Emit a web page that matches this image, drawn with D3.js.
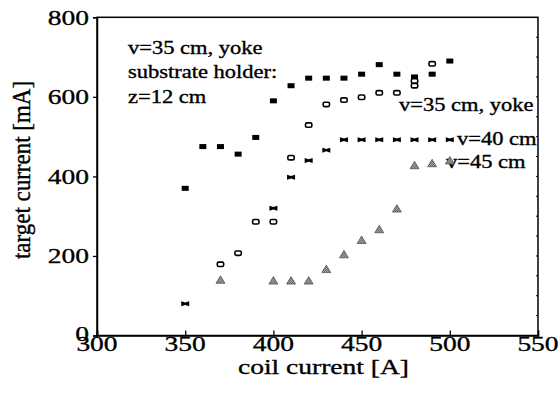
<!DOCTYPE html>
<html><head><meta charset="utf-8">
<script src="https://cdn.jsdelivr.net/npm/d3@7"></script>
<style>body{margin:0;background:#fff}svg{display:block}text{font-family:"Liberation Serif","Times New Roman",serif;fill:#000;stroke:#000;stroke-width:0.35px}</style>
</head><body><svg id="c" width="560" height="405"></svg>
<script>
// ---- data ----
const xTicks = [300, 350, 400, 450, 500, 550];
const yTicks = [0, 200, 400, 600, 800];
const xLabel = "coil current [A]";
const yLabel = "target current [mA]";

// v=35 cm, yoke, substrate holder z=12 cm (filled squares)
const holderCoil = [350,360,370,380,390,400,410,420,430,440,450,460,470,480,490,500];
const holderCur  = [370,475,475,456,498,590,628,647,647,647,657,681,657,650,657,690];
// v=35 cm, yoke (open rectangles)
const yokeCoil = [370,380,390,400,410,420,430,440,450,460,470,480,480,490];
const yokeCur  = [179,207,286,286,447,529,581,592,599,610,610,628,640,683];
// v=40 cm (bow ties)
const v40Coil = [350,400,410,420,430,440,450,460,470,480,490,500];
const v40Cur  = [80,320,398,440,466,492,492,492,492,492,492,492];
// v=45 cm (hatched triangles)
const v45Coil = [370,400,410,420,430,440,450,460,470,480,490,500];
const v45Cur  = [140,138,138,138,167,204,240,267,319,428,433,440];

const noteLines = ["v=35 cm, yoke", "substrate holder:", "z=12 cm"];
const seriesLabels = ["v=35 cm, yoke", "v=40 cm", "v=45 cm"];

// ---- drawing ----
const svg = d3.select("#c");
const L = 97, R = 538, T = 17.3, B = 335.5;
const SX = 1.25; // horizontal stretch of the scanned glyphs
const x = d3.scaleLinear().domain([300, 550]).range([L, R]);
const y = d3.scaleLinear().domain([0, 800]).range([B, T]);

const defs = svg.append("defs");
const pat = defs.append("pattern").attr("id","dots").attr("width",2).attr("height",2)
  .attr("patternUnits","userSpaceOnUse");
pat.append("rect").attr("width",2).attr("height",2).attr("fill","#fff");
pat.append("rect").attr("x",0).attr("y",0).attr("width",1).attr("height",1).attr("fill","#111");
pat.append("rect").attr("x",1).attr("y",1).attr("width",1).attr("height",1).attr("fill","#111");
defs.append("clipPath").attr("id","clip").append("rect")
  .attr("x",L).attr("y",T).attr("width",R-L).attr("height",B-T);

function stext(g, str, px, py, size, anchor) {
  return g.append("text").attr("font-size", size).attr("text-anchor", anchor || "start")
    .attr("transform", `translate(${px},${py}) scale(${SX},1)`).text(str);
}

// frame
svg.append("rect").attr("x",L).attr("y",T).attr("width",R-L).attr("height",B-T)
  .attr("fill","none").attr("stroke","#000").attr("stroke-width",1.5);

// axes (ticks only, labels drawn separately)
const ax = svg.append("g").attr("transform",`translate(0,${B})`)
  .call(d3.axisBottom(x).tickValues(xTicks).tickSize(-5).tickFormat(""));
const ay = svg.append("g").attr("transform",`translate(${L},0)`)
  .call(d3.axisLeft(y).tickValues(yTicks).tickSize(4).tickFormat(""));
[ax, ay].forEach(a => {
  a.select(".domain").attr("stroke-width",1.5);
  a.selectAll(".tick line").attr("stroke-width",1.3);
});
// small ticks along right border
svg.append("g").selectAll("line").data(d3.range(50, 800, 50)).join("line")
  .attr("x1",R-2).attr("x2",R).attr("y1",d=>y(d)).attr("y2",d=>y(d))
  .attr("stroke","#000").attr("stroke-width",1);

const lab = svg.append("g");
xTicks.forEach(v => stext(lab, String(v), x(v), 351, 22, "middle"));
yTicks.forEach(v => stext(lab, String(v), 89, y(v) + (v === 0 ? 5 : 7.5), 22, "end"));
stext(lab, xLabel, (L + R) / 2 + 6, 374, 22, "middle");
lab.append("text").attr("font-size",23).attr("text-anchor","middle")
  .attr("transform","translate(30,170) rotate(-90) scale(1,1.1)").text(yLabel);

// notes
noteLines.forEach((s, i) => stext(lab, s, 128, [54, 78, 103][i], 18));
const cl = svg.append("g").attr("clip-path","url(#clip)");
stext(cl, seriesLabels[0], 399, 111, 18);
stext(cl, seriesLabels[1], 457, 145, 18);
stext(cl, seriesLabels[2], 446, 168, 18);

// markers
const pts = (cx, cy) => cx.map((c, i) => ({c, v: cy[i]}));
const m = svg.append("g");
m.selectAll(".fs").data(pts(holderCoil, holderCur)).join("rect")
  .attr("x", d => x(d.c) - 3.5).attr("y", d => y(d.v) - 2.5)
  .attr("width", 7).attr("height", 5).attr("fill", "#000");
m.selectAll(".os").data(pts(yokeCoil, yokeCur)).join("rect")
  .attr("x", d => x(d.c) - 3.2).attr("y", d => y(d.v) - 2.2)
  .attr("width", 6.4).attr("height", 4.4).attr("rx", 1.5)
  .attr("fill", "#fff").attr("stroke", "#000").attr("stroke-width", 1.6);
m.selectAll(".bt").data(pts(v40Coil, v40Cur)).join("path")
  .attr("transform", d => `translate(${x(d.c)},${y(d.v)})`)
  .attr("d", "M-4,-2.5 L0,-1.2 L4,-2.5 L4,2.5 L0,1.2 L-4,2.5 Z").attr("fill", "#000");
m.selectAll(".tr").data(pts(v45Coil, v45Cur)).join("path")
  .attr("transform", d => `translate(${x(d.c)},${y(d.v)})`)
  .attr("d", "M0,-4 L4.5,3.5 L-4.5,3.5 Z").attr("fill", "url(#dots)")
  .attr("stroke", "#333").attr("stroke-width", 0.6);
</script></body></html>
